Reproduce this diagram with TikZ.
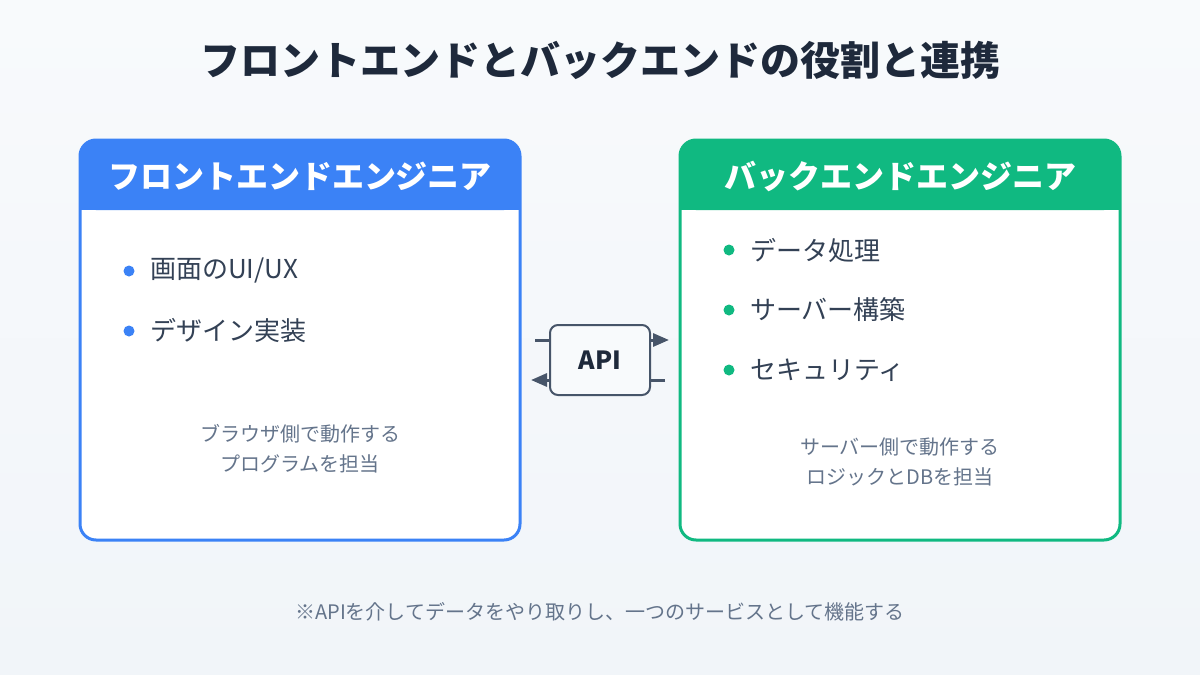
\documentclass[tikz,border=0pt]{standalone}
\usepackage{fontspec}
\setmainfont{Noto Sans CJK JP}
\usetikzlibrary{arrows.meta}
\definecolor{bgA}{HTML}{F8FAFC}
\definecolor{bgB}{HTML}{F1F5F9}
\definecolor{titlec}{HTML}{1E293B}
\definecolor{textc}{HTML}{334155}
\definecolor{subc}{HTML}{64748B}
\definecolor{blueC}{HTML}{3B82F6}
\definecolor{greenC}{HTML}{10B981}
\definecolor{apic}{HTML}{475569}
\tikzset{
  bullettext/.style={anchor=west,inner sep=0pt,font=\fontsize{26}{30}\selectfont,text=textc},
  subtext/.style={align=center,inner sep=0pt,font=\fontsize{20}{30}\selectfont,text=subc},
  headtext/.style={inner sep=0pt,font=\fontsize{32}{36}\selectfont\bfseries,text=white},
  dot/.style={circle,inner sep=0pt,minimum size=11pt},
  apiarrow/.style={apic,line width=3pt,-{Triangle[length=16pt,width=13pt]}},
}
\begin{document}
\begin{tikzpicture}[x=1pt,y=-1pt]
\useasboundingbox (0,0) rectangle (1200,675);
\shade[top color=bgA,bottom color=bgB] (0,0) rectangle (1200,675);
\node[inner sep=0pt,font=\fontsize{40}{44}\selectfont\bfseries,text=titlec] (title) at (600,60) {フロントエンドとバックエンドの役割と連携};
% left box
\fill[white,rounded corners=16pt] (80,140) rectangle (520,540);
\fill[blueC,rounded corners=16pt] (80,140) rectangle (520,210);
\fill[blueC] (80,190) rectangle (520,210);
\draw[blueC,line width=3pt,rounded corners=16pt] (80,140) rectangle (520,540);
\node[headtext] (lh) at (300,176) {フロントエンドエンジニア};
\node[dot,fill=blueC] (ld1) at (129,271) {};
\node[bullettext] (l1) at (150,271) {画面のUI/UX};
\node[dot,fill=blueC] (ld2) at (129,331) {};
\node[bullettext] (l2) at (150,331) {デザイン実装};
\node[subtext] (ls) at (300,449) {ブラウザ側で動作する\\プログラムを担当};
% right box
\fill[white,rounded corners=16pt] (680,140) rectangle (1120,540);
\fill[greenC,rounded corners=16pt] (680,140) rectangle (1120,210);
\fill[greenC] (680,190) rectangle (1120,210);
\draw[greenC,line width=3pt,rounded corners=16pt] (680,140) rectangle (1120,540);
\node[headtext] (rh) at (900,176) {バックエンドエンジニア};
\node[dot,fill=greenC] (rd1) at (729,250) {};
\node[bullettext] (r1) at (750,250) {データ処理};
\node[dot,fill=greenC] (rd2) at (729,310) {};
\node[bullettext] (r2) at (750,310) {サーバー構築};
\node[dot,fill=greenC] (rd3) at (729,370) {};
\node[bullettext] (r3) at (750,370) {セキュリティ};
\node[subtext] (rs) at (900,462) {サーバー側で動作する\\ロジックとDBを担当};
% API
\coordinate (a1) at (535,340);
\coordinate (a2) at (669,340);
\coordinate (b1) at (665,380);
\coordinate (b2) at (531,380);
\draw[apiarrow] (a1) -- (a2);
\draw[apiarrow] (b1) -- (b2);
\node[draw=apic,fill=bgA,line width=2pt,rounded corners=8pt,minimum width=100pt,minimum height=70pt,font=\fontsize{25}{28}\selectfont\bfseries,text=titlec] (api) at (600,360) {API};
% footer
\node[inner sep=0pt,font=\fontsize{20}{22}\selectfont,text=subc] (foot) at (600,612) {※APIを介してデータをやり取りし、一つのサービスとして機能する};
\end{tikzpicture}
\end{document}
